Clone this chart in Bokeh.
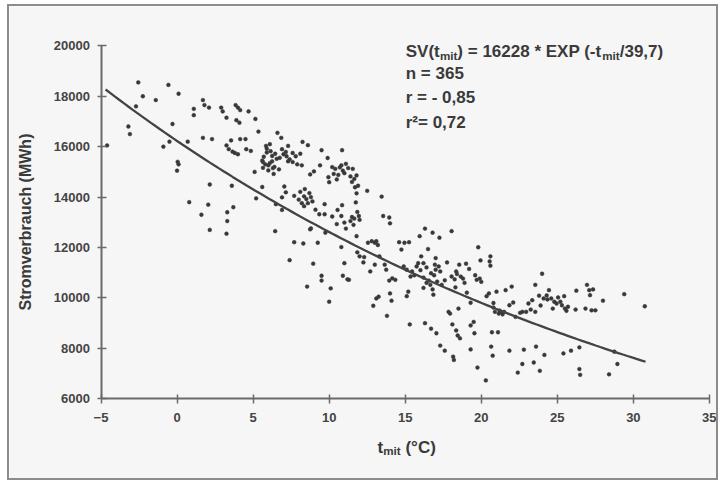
from bokeh.plotting import figure
from bokeh.models import Label, Range1d, FixedTicker, ColumnDataSource
from bokeh.embed import file_html
from bokeh.resources import INLINE
import math

# ---------------- data ----------------
temp_c = [
    -4.6, -3.2, -3.1, -2.55, -2.7, -2.25, -1.4, -0.9, -0.57, -0.3,
    -0.5, 0.1, 0.04, 0.1, 0.0, 0.7, 0.8, 1.1, 1.1, 1.7,
    1.8, 1.7, 1.6, 2.1, 2.3, 2.15, 2.05, 2.15, 2.9, 3.0,
    3.25, 3.25, 3.4, 3.55, 3.65, 3.6, 3.7, 3.3, 3.3, 3.25,
    3.85, 4.0, 4.15, 3.9, 4.1, 3.8, 4.0, 4.15, 4.5, 4.7,
    4.55, 4.85, 5.15, 5.35, 5.1, 5.2, 5.6, 5.65, 5.65, 5.6,
    5.85, 5.9, 5.9, 6.0, 6.0, 6.1, 6.15, 6.25, 6.25, 6.3,
    6.35, 6.45, 6.55, 6.45, 6.5, 6.6, 6.75, 6.85, 6.9, 6.9,
    7.05, 7.15, 7.15, 7.2, 7.3, 7.3, 7.4, 7.6, 7.6, 7.7,
    7.7, 7.8, 7.9, 8.1, 8.1, 8.2, 8.2, 8.25, 8.35, 8.35,
    8.3, 8.4, 8.6, 8.5, 8.6, 8.55, 8.7, 8.75, 8.75, 8.9,
    8.8, 8.95, 9.0, 9.25, 9.35, 9.4, 9.5, 9.5, 9.5, 9.7,
    9.7, 9.75, 9.9, 9.95, 10.0, 10.0, 10.1, 10.2, 10.2, 10.3,
    10.4, 10.5, 10.55, 10.6, 10.7, 10.8, 10.85, 10.8, 10.85, 10.8,
    10.9, 11.0, 11.0, 11.1, 11.1, 11.25, 11.3, 11.2, 11.4, 11.5,
    11.55, 11.65, 11.65, 11.7, 11.75, 11.8, 11.8, 11.8, 11.85, 11.85,
    11.95, 12.0, 12.25, 12.3, 12.5, 12.55, 12.7, 12.9, 13.0, 13.0,
    13.1, 13.1, 13.25, 13.3, 13.45, 13.55, 13.65, 13.75, 13.8, 13.95,
    14.0, 13.95, 14.0, 14.1, 14.15, 14.35, 14.6, 14.75, 14.95, 14.9,
    15.1, 15.1, 15.2, 15.25, 15.3, 15.35, 15.45, 15.75, 15.85, 15.95,
    16.05, 16.2, 16.2, 16.3, 16.3, 16.4, 16.5, 16.55, 16.65, 16.7,
    16.8, 16.7, 16.8, 16.85, 16.95, 17.0, 17.0, 17.1, 17.05, 17.2,
    17.25, 17.3, 17.4, 17.6, 17.75, 17.85, 17.95, 18.05, 18.05, 18.1,
    18.15, 18.2, 18.25, 18.3, 18.35, 18.35, 18.45, 18.5, 18.55, 18.6,
    18.65, 18.8, 19.0, 19.05, 19.3, 19.3, 19.3, 19.5, 19.55, 19.7,
    19.75, 19.8, 19.9, 19.95, 20.0, 20.3, 20.35, 20.5, 20.55, 20.6,
    20.6, 20.65, 20.7, 20.75, 20.8, 20.9, 21.0, 21.1, 21.15, 21.3,
    21.4, 21.6, 21.85, 21.85, 22.0, 22.1, 22.25, 22.4, 22.55, 22.7,
    22.7, 22.8, 22.95, 23.1, 23.25, 23.35, 23.45, 23.55, 23.55, 23.6,
    23.8, 23.85, 24.0, 24.1, 24.15, 24.35, 24.45, 24.6, 24.7, 24.8,
    24.95, 25.05, 25.3, 25.4, 25.45, 25.5, 25.6, 25.9, 26.2, 26.25,
    26.45, 26.45, 26.5, 26.85, 26.95, 27.1, 27.15, 27.25, 27.35, 27.5,
    28.0, 28.4, 28.75, 28.95, 29.4, 30.75,
    5.7, 5.8, 6.1, 6.4, 6.7, 7.0, 7.4, 6.9,
    10.5, 11.0, 11.5, 11.9, 10.9, 11.4, 11.6, 12.0,
    15.6, 16.0, 16.4, 16.9, 17.3, 17.6, 16.2,
    18.4, 18.9, 19.6, 19.2, 21.2, 21.5, 20.8,
    23.9, 24.3, 25.2, 25.7, 8.0, 8.8, 9.1, 13.2, 12.8,
]

strom_mwh = [
    16050, 16800, 16500, 18550, 17600, 18000, 17850, 16000, 18450, 16900,
    16200, 18100, 15400, 15300, 15050, 16200, 13800, 17500, 17250, 17850,
    17650, 16350, 13300, 17550, 16300, 14500, 13700, 12700, 17550, 17400,
    17150, 16050, 15900, 16250, 15800, 14450, 13600, 13400, 13050, 12550,
    17650, 17550, 17450, 17050, 16950, 15750, 15700, 16300, 16300, 17400,
    15900, 15830, 17100, 16600, 15000, 13950, 15450, 15390, 15160, 14400,
    16030, 15920, 15770, 15260, 15060, 16100, 15820, 15630, 15420, 15150,
    14920, 15720, 15520, 12650, 13720, 16550, 15560, 16350, 13490, 13990,
    14420, 14190, 15790, 15620, 15420, 16030, 11500, 15750, 15390, 12210,
    14050, 15620, 15300, 15720, 14210, 15260, 13760, 16190, 13640, 14030,
    12160, 14320, 16060, 13920, 13760, 10450, 14160, 12720, 14900, 13830,
    12760, 11360, 15020, 12190, 13320, 15260, 15860, 10880, 10690, 13720,
    13320, 12590, 15550, 14790, 14590, 9850, 10380, 13230, 15190, 14920,
    15120, 12930, 13490, 14880, 15180, 15260, 15860, 13250, 13680, 12020,
    10880, 11380, 12990, 12750, 15320, 15150, 10720, 10740, 14820, 13210,
    15120, 14720, 13150, 14390, 13790, 14860, 14150, 12450, 11810, 13410,
    13250, 11650, 11410, 11620, 14250, 12190, 11050, 9690, 11320, 12190,
    12250, 9980, 10050, 11650, 14020, 13250, 11320, 11120, 9290, 13190,
    12960, 10690, 10180, 9890, 10780, 10720, 12210, 11920, 12190, 11250,
    11120, 10070, 10250, 12210, 8950, 10850, 11050, 11250, 11380, 12450,
    11650, 10810, 11380, 12750, 9000, 11210, 11940, 10690, 10520, 10980,
    12590, 8780, 10340, 10130, 11320, 11580, 11120, 10650, 8600, 11250,
    12390, 8110, 10520, 7910, 11410, 9450, 9380, 12650, 10850, 8950,
    7670, 7540, 10740, 10420, 11050, 8710, 8510, 9580, 11320, 8400,
    10850, 10770, 11360, 10210, 7960, 8910, 9810, 9050, 8600, 10720,
    7240, 12010, 10770, 11490, 10640, 6730, 10070, 10180, 11450, 11280,
    11650, 8070, 8640, 7710, 9620, 9450, 10250, 8640, 9380, 9450,
    9350, 10310, 7910, 9710, 10450, 9820, 9250, 7040, 9410, 7380,
    9450, 7950, 9450, 9780, 9540, 9910, 7440, 10520, 9450, 8070,
    10090, 7110, 10960, 9980, 7740, 9940, 10310, 9980, 9580, 9850,
    9780, 10020, 9710, 7800, 10070, 9580, 9490, 7910, 9540, 10290,
    8040, 7180, 6950, 9580, 10520, 10310, 10110, 9510, 10340, 9510,
    9890, 6970, 7870, 7380, 10150, 9670,
    15600, 15300, 15350, 15200, 15100, 15700, 15500, 15900,
    14700, 14950, 14600, 14450, 15050, 13050, 12900, 13100,
    10900, 11100, 10600, 10900, 11050, 10700, 10400,
    10950, 10600, 10900, 11150, 9500, 9450, 9800,
    9700, 10100, 9850, 9650, 13900, 14000, 13500, 12100, 12250,
]

# fitted curve given in the chart: SV = 16228 * exp(-t / 39.7)
fit_a = 16228
fit_tau = 39.7
fit_t_start = -4.7
fit_t_end = 30.8

x_ticks = [-5, 0, 5, 10, 15, 20, 25, 30, 35]
y_ticks = [6000, 8000, 10000, 12000, 14000, 16000, 18000, 20000]

y_title = "Stromverbrauch (MWh)"
stat_lines = ["n = 365", "r = - 0,85", "r\u00b2= 0,72"]

# ---------------- layout / style ----------------
# host element (border-box incl. 2px border) placed at page (7, 4)
HOST_X, HOST_Y, BW = 7, 4, 2
W, H = 711, 476
CW, CH = W - 2 * BW, H - 2 * BW          # canvas size inside the border
CX0, CY0 = HOST_X + BW, HOST_Y + BW      # canvas origin on the page
# where the axes box sits inside the canvas (px)
BL, BR, BT, BB = 91, 11, 39, 83
FW = CW - BL - BR
FH = CH - BT - BB
X0, X1, Y0, Y1 = -5, 35, 6000, 20000
PXX = (X1 - X0) / FW     # data units per px
PXY = (Y1 - Y0) / FH
FONT = "Liberation Sans"
TXT = "#3a3a3a"
AX = "#6a6a6a"
BG = "#f6f6f6"

def dx(page_x):
    return X0 + (page_x - CX0 - BL) * PXX

def dy(page_y):
    return Y1 - (page_y - CY0 - BT) * PXY

# Arial/Liberation Sans Bold advance widths (per 1000 em)
AW = {" ": 278, "(": 333, ")": 333, "*": 389, "-": 333, "/": 278, ",": 278,
      "=": 584, "S": 667, "V": 667, "E": 667, "X": 667, "P": 667, "C": 722,
      "t": 333, "m": 889, "i": 278, "n": 611, "r": 389, "\u00b0": 400}

def tw(s, size):
    return sum(AW.get(c, 556) for c in s) * size / 1000.0

# the frame covers the whole canvas; axes are pinned at x=-5 / y=6000
xr = Range1d(X0 - BL * PXX, X1 + BR * PXX)
yr = Range1d(Y0 - BB * PXY, Y1 + BT * PXY)
p = figure(width=W, height=H, x_range=xr, y_range=yr,
           output_backend="svg", toolbar_location=None,
           min_border_left=0, min_border_right=0, min_border_top=0, min_border_bottom=0,
           background_fill_color=BG, border_fill_color=BG)
p.styles = {"border": f"{BW}px solid #8c8c8c", "margin-left": f"{HOST_X}px",
            "margin-top": f"{HOST_Y}px", "box-sizing": "border-box"}
p.outline_line_color = None
p.grid.visible = False

for ax in (p.xaxis[0], p.yaxis[0]):
    ax.axis_line_color = AX
    ax.axis_line_width = 2
    ax.major_tick_line_color = AX
    ax.major_tick_line_width = 1.5
    ax.minor_tick_line_color = None
    ax.major_label_text_font = FONT
    ax.major_label_text_font_style = "bold"
    ax.major_label_text_font_size = "13px"
    ax.major_label_text_color = "#444444"

p.xaxis.fixed_location = Y0
p.yaxis.fixed_location = X0
p.xaxis.bounds = (X0, X1)
p.yaxis.bounds = (Y0, Y1)
p.xaxis.ticker = FixedTicker(ticks=x_ticks)
p.yaxis.ticker = FixedTicker(ticks=y_ticks)
p.xaxis.major_tick_in = 4
p.xaxis.major_tick_out = 5
p.xaxis.major_label_standoff = 9
p.yaxis.major_tick_in = 5
p.yaxis.major_tick_out = 4
p.yaxis.major_label_standoff = 7

p.yaxis.axis_label = y_title
p.yaxis.axis_label_text_font = FONT
p.yaxis.axis_label_text_font_style = "bold"
p.yaxis.axis_label_text_font_size = "16px"
p.yaxis.axis_label_text_color = TXT
p.yaxis.axis_label_standoff = 17

# scatter
src = ColumnDataSource(dict(x=temp_c, y=strom_mwh))
p.scatter("x", "y", source=src, size=3.8, fill_color="#383838", line_color="#383838",
          line_width=0.5)

# fitted curve
n = 120
fx = [fit_t_start + (fit_t_end - fit_t_start) * i / (n - 1) for i in range(n)]
fy = [fit_a * math.exp(-t / fit_tau) for t in fx]
p.line(fx, fy, line_color="#434343", line_width=2.3)

def add_label(page_x, page_y, text, size, dy_px=0):
    p.add_layout(Label(x=dx(page_x), y=dy(page_y + dy_px), text=text,
                       text_font=FONT, text_font_style="bold",
                       text_font_size=f"{size}px", text_color=TXT,
                       text_align="left", text_baseline="alphabetic"))

def add_runs(page_x, page_y, runs, size):
    x = page_x
    for txt, sub in runs:
        s = size * 0.68 if sub else size
        lead = len(txt) - len(txt.lstrip(" "))
        x += tw(" " * lead, s)           # leading blanks become an explicit gap
        body = txt.lstrip(" ")
        add_label(x, page_y, body, round(s, 1), 3.5 if sub else 0)
        x += tw(body, s)

EQ = 17
add_runs(403, 51, [("SV(t", False), ("mit", True), (") = 16228 * EXP (-t", False),
                   ("mit", True), ("/39,7)", False)], EQ)
for i, line in enumerate(stat_lines):
    add_label(403, [72.5, 96.7, 121][i], line, EQ)

# x axis title with subscript
add_runs(375, 443, [("t", False), ("mit", True), (" (\u00b0C)", False)], 17)

open("out.html", "w").write(file_html(p, INLINE))
